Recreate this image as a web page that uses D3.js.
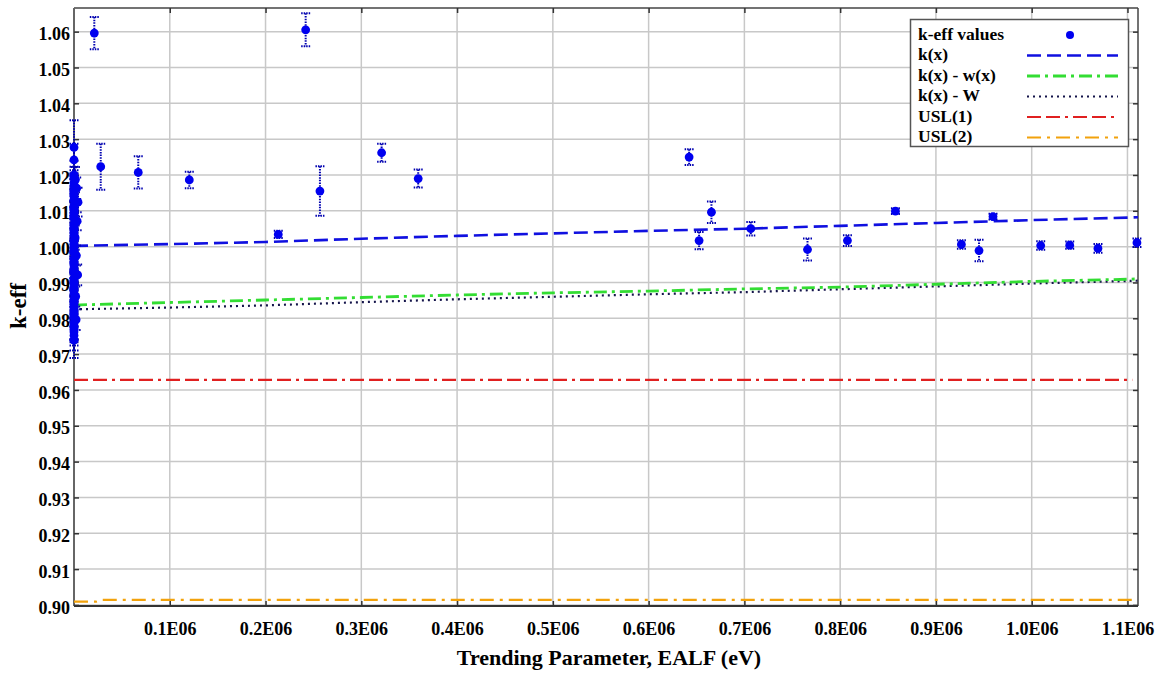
<!DOCTYPE html>
<html>
<head>
<meta charset="utf-8">
<script src="https://cdn.jsdelivr.net/npm/d3@7"></script>
<style>
  html, body { margin: 0; padding: 0; background: #ffffff; }
  svg { display: block; }
  text { font-family: "Liberation Serif", "Times New Roman", serif; font-weight: bold; fill: #000; }
</style>
</head>
<body>
<div id="chart"></div>
<script>
// ---------------- DATA ----------------
const xTickValues = [100000, 200000, 300000, 400000, 500000, 600000, 700000, 800000, 900000, 1000000, 1100000];
const xTickLabels = ["0.1E06", "0.2E06", "0.3E06", "0.4E06", "0.5E06", "0.6E06", "0.7E06", "0.8E06", "0.9E06", "1.0E06", "1.1E06"];
const yTickValues = [0.90, 0.91, 0.92, 0.93, 0.94, 0.95, 0.96, 0.97, 0.98, 0.99, 1.00, 1.01, 1.02, 1.03, 1.04, 1.05, 1.06];
const yTickLabels = ["0.90", "0.91", "0.92", "0.93", "0.94", "0.95", "0.96", "0.97", "0.98", "0.99", "1.00", "1.01", "1.02", "1.03", "1.04", "1.05", "1.06"];

// k-eff values (EALF in eV): thermal cluster near zero, then intermediate/fast systems
const ealf = [
  0.08, 0.12, 0.3, 1500, 0.5, 2800, 0.2, 0.4, 4200, 0.15, 0.6, 0.09, 3300, 0.25, 0.7, 0.11,
  1200, 0.35, 0.18, 0.9, 2500, 0.1, 0.45, 0.22, 3800, 0.3, 0.13, 0.55, 0.2, 1800, 0.16, 0.4,
  0.1, 0.28, 2200, 0.14, 0.6, 0.19, 0.12,
  0.07, 0.33, 0.21, 0.5, 0.11, 0.26, 0.8, 0.17, 0.42, 0.09, 0.3, 0.65, 0.13, 0.24, 0.38, 0.1,
  0.52, 0.2, 0.15, 0.31, 0.09, 0.44,
  21200, 27900, 67100, 120400, 213300, 241900, 256800, 321200, 359400, 642300, 652700, 665600,
  706700, 765900, 807600, 857700, 926600, 945000, 959600, 1009400, 1039700, 1069200, 1109900
];
const keff = [
  1.0277, 1.0242, 1.0200, 1.0187, 1.0171, 1.0163, 1.0149, 1.0131, 1.0124, 1.0109, 1.0096, 1.0088, 1.0071, 1.0062, 1.0049, 1.0033,
  1.0025, 1.0008, 0.9999, 0.9984, 0.9975, 0.9958, 0.9947, 0.9936, 0.9921, 0.9912, 0.9897, 0.9886, 0.9870, 0.9861, 0.9846, 0.9837,
  0.9820, 0.9812, 0.9796, 0.9787, 0.9771, 0.9762, 0.9739,
  1.0193, 1.0179, 1.0156, 1.0140, 1.0116, 1.0103, 1.0079, 1.0055, 1.0041, 1.0016, 0.9991, 0.9966, 0.9954, 0.9928, 0.9904, 0.9879,
  0.9853, 0.9829, 0.9804, 0.9779, 0.9768, 0.9752,
  1.0596, 1.0223, 1.0207, 1.0186, 1.0034, 1.0605, 1.0155, 1.0262, 1.0190, 1.0250, 1.0017, 1.0096,
  1.0050, 0.9992, 1.0017, 1.0099, 1.0006, 0.9989, 1.0084, 1.0003, 1.0004, 0.9995, 1.0011
];
const sigma = [
  0.0076, 0.0045, 0.0040, 0.0035, 0.0042, 0.0030, 0.0038, 0.0028, 0.0040, 0.0033, 0.0030, 0.0036, 0.0025, 0.0032, 0.0030, 0.0027,
  0.0034, 0.0030, 0.0026, 0.0032, 0.0028, 0.0030, 0.0025, 0.0031, 0.0029, 0.0027, 0.0033, 0.0026, 0.0030, 0.0028, 0.0032, 0.0027,
  0.0030, 0.0034, 0.0029, 0.0045, 0.0030, 0.0038, 0.0050,
  0.0030, 0.0026, 0.0033, 0.0028, 0.0031, 0.0025, 0.0029, 0.0032, 0.0027, 0.0030, 0.0026, 0.0031, 0.0028, 0.0030, 0.0027, 0.0033,
  0.0029, 0.0031, 0.0028, 0.0040, 0.0035, 0.0042,
  0.0045, 0.0064, 0.0045, 0.0023, 0.0010, 0.0046, 0.0069, 0.0025, 0.0025, 0.0022, 0.0024, 0.0030,
  0.0019, 0.0031, 0.0015, 0.0008, 0.0012, 0.0030, 0.0008, 0.0012, 0.0010, 0.0012, 0.0012
];

// trend lines
const fitX = [0, 100000, 200000, 300000, 400000, 500000, 600000, 700000, 800000, 900000, 1000000, 1100000, 1111000];
const kx = [1.0002, 1.0007, 1.0013, 1.0022, 1.0030, 1.0037, 1.0044, 1.0050, 1.0058, 1.0066, 1.0074, 1.0081, 1.0082];
const kxMinusWx = [0.9837, 0.9844, 0.9851, 0.9858, 0.9865, 0.9871, 0.9876, 0.9882, 0.9887, 0.9895, 0.9903, 0.9909, 0.9910];
const kxMinusW = [0.9825, 0.9830, 0.9836, 0.9845, 0.9853, 0.9860, 0.9867, 0.9873, 0.9881, 0.9889, 0.9897, 0.9904, 0.9905];
const usl1X = [0, 1105000];
const usl1 = [0.9628, 0.9628];
const usl2X = [0, 23000, 30000, 1105000];
const usl2 = [0.9009, 0.9009, 0.9014, 0.9014];

const legendLabels = ["k-eff values", "k(x)", "k(x) - w(x)", "k(x) - W", "USL(1)", "USL(2)"];

// ---------------- STYLE ----------------
const W = 1159, H = 673;
const plot = { left: 74, right: 1138, top: 8, bottom: 606 };
const styles = {
  kx:   { color: "#1010e0", dash: "14,6", width: 2.6 },
  kwx:  { color: "#33dd33", dash: "13,5,3,5", width: 2.8 },
  kW:   { color: "#14144a", dash: "2,4", width: 2.2 },
  usl1: { color: "#e02020", dash: "14,5,14,5,3,5", width: 2.2 },
  usl2: { color: "#f2a20c", dash: "14,6,3,6", width: 2.2 }
};
const pointColor = "#0000f0";
const errColor = "#0000b0";

// ---------------- CHART ----------------
const svg = d3.select("#chart").append("svg")
  .attr("width", W).attr("height", H)
  .attr("viewBox", `0 0 ${W} ${H}`);
svg.append("rect").attr("width", W).attr("height", H).attr("fill", "#fff");

const x = d3.scaleLinear().domain([0, 1111000]).range([plot.left, plot.right]);
const y = d3.scaleLinear().domain([0.8997, 1.0666]).range([plot.bottom, plot.top]);

// grid
const grid = svg.append("g");
grid.selectAll(".vg").data(xTickValues).join("line")
  .attr("x1", d => x(d)).attr("x2", d => x(d))
  .attr("y1", plot.top).attr("y2", plot.bottom)
  .attr("stroke", "#c8c8c8").attr("stroke-width", 1.5);
grid.selectAll(".hg").data(yTickValues).join("line")
  .attr("x1", plot.left).attr("x2", plot.right)
  .attr("y1", d => y(d)).attr("y2", d => y(d))
  .attr("stroke", "#c8c8c8").attr("stroke-width", 1.5);

// frame
svg.append("line").attr("x1", plot.left).attr("x2", plot.right).attr("y1", plot.top).attr("y2", plot.top)
  .attr("stroke", "#444").attr("stroke-width", 1.5);
svg.append("line").attr("x1", plot.right).attr("x2", plot.right).attr("y1", plot.top).attr("y2", plot.bottom)
  .attr("stroke", "#444").attr("stroke-width", 1.5);
svg.append("line").attr("x1", plot.left).attr("x2", plot.right).attr("y1", plot.bottom).attr("y2", plot.bottom)
  .attr("stroke", "#333").attr("stroke-width", 2);
svg.append("line").attr("x1", plot.left).attr("x2", plot.left).attr("y1", plot.top).attr("y2", plot.bottom)
  .attr("stroke", "#666").attr("stroke-width", 2);

// axes
const xAxis = d3.axisBottom(x).tickValues(xTickValues)
  .tickFormat((d, i) => xTickLabels[i]).tickSizeInner(-5).tickSizeOuter(0).tickPadding(16);
const gx = svg.append("g").attr("transform", `translate(0,${plot.bottom})`).call(xAxis);
gx.select(".domain").remove();
gx.selectAll(".tick line").attr("stroke", "#333").attr("stroke-width", 1.5);
gx.selectAll(".tick text").attr("font-size", 18).attr("fill", "#000");

const xAxisTop = d3.axisTop(x).tickValues(xTickValues).tickFormat("").tickSizeInner(-5).tickSizeOuter(0);
const gxt = svg.append("g").attr("transform", `translate(0,${plot.top})`).call(xAxisTop);
gxt.select(".domain").remove();
gxt.selectAll(".tick line").attr("stroke", "#333").attr("stroke-width", 1.5);

const yAxis = d3.axisLeft(y).tickValues(yTickValues)
  .tickFormat((d, i) => yTickLabels[i]).tickSizeInner(-5).tickSizeOuter(0).tickPadding(4);
const gy = svg.append("g").attr("transform", `translate(${plot.left},0)`).call(yAxis);
gy.select(".domain").remove();
gy.selectAll(".tick line").attr("stroke", "#333").attr("stroke-width", 1.5);
gy.selectAll(".tick text").attr("font-size", 18).attr("dy", "0.45em").attr("fill", "#000");

const yAxisRight = d3.axisRight(y).tickValues(yTickValues).tickFormat("").tickSizeInner(-5).tickSizeOuter(0);
const gyr = svg.append("g").attr("transform", `translate(${plot.right},0)`).call(yAxisRight);
gyr.select(".domain").remove();
gyr.selectAll(".tick line").attr("stroke", "#333").attr("stroke-width", 1.5);

// axis titles
svg.append("text").attr("x", 609).attr("y", 665).attr("text-anchor", "middle")
  .attr("font-size", 22).text("Trending Parameter, EALF (eV)");
svg.append("text").attr("transform", "translate(26,306) rotate(-90)").attr("text-anchor", "middle")
  .attr("font-size", 23).text("k-eff");

// lines
const lineGen = (xs, ys) => d3.line().x((d, i) => x(xs[i])).y((d, i) => y(ys[i]))(ys);
function drawLine(xs, ys, st) {
  svg.append("path").attr("d", lineGen(xs, ys)).attr("fill", "none")
    .attr("stroke", st.color).attr("stroke-width", st.width).attr("stroke-dasharray", st.dash);
}
drawLine(usl2X, usl2, styles.usl2);
drawLine(usl1X, usl1, styles.usl1);
drawLine(fitX, kxMinusW, styles.kW);
drawLine(fitX, kxMinusWx, styles.kwx);
drawLine(fitX, kx, styles.kx);

// error bars and points
const pts = ealf.map((e, i) => ({ e, k: keff[i], s: sigma[i] }));
const eb = svg.append("g");
pts.forEach(p => {
  const px = x(p.e), yt = y(p.k + p.s), yb = y(p.k - p.s);
  eb.append("line").attr("x1", px).attr("x2", px).attr("y1", yt).attr("y2", yb)
    .attr("stroke", errColor).attr("stroke-width", 2).attr("stroke-dasharray", "1.5,1.2");
  [yt, yb].forEach(yy => {
    eb.append("line").attr("x1", px - 4.5).attr("x2", px + 4.5).attr("y1", yy).attr("y2", yy)
      .attr("stroke", errColor).attr("stroke-width", 2).attr("stroke-dasharray", "1.5,1");
  });
});
svg.append("g").selectAll("circle").data(pts).join("circle")
  .attr("cx", d => x(d.e)).attr("cy", d => y(d.k)).attr("r", 4.4).attr("fill", pointColor);

// legend
const lg = svg.append("g");
lg.append("rect").attr("x", 910.5).attr("y", 19.5).attr("width", 218).attr("height", 127)
  .attr("fill", "#fff").attr("stroke", "#555").attr("stroke-width", 1.5);
const lgStyles = [null, styles.kx, styles.kwx, styles.kW, styles.usl1, styles.usl2];
legendLabels.forEach((lab, i) => {
  const base = 39.5 + i * 20.5;
  lg.append("text").attr("x", 918).attr("y", base).attr("font-size", 17.5).text(lab);
  const cy = base - 4.5;
  if (i === 0) {
    lg.append("circle").attr("cx", 1070).attr("cy", cy).attr("r", 4).attr("fill", pointColor);
  } else {
    const st = lgStyles[i];
    lg.append("line").attr("x1", 1027).attr("x2", 1118).attr("y1", cy).attr("y2", cy)
      .attr("stroke", st.color).attr("stroke-width", st.width).attr("stroke-dasharray", st.dash);
  }
});
</script>
</body>
</html>
